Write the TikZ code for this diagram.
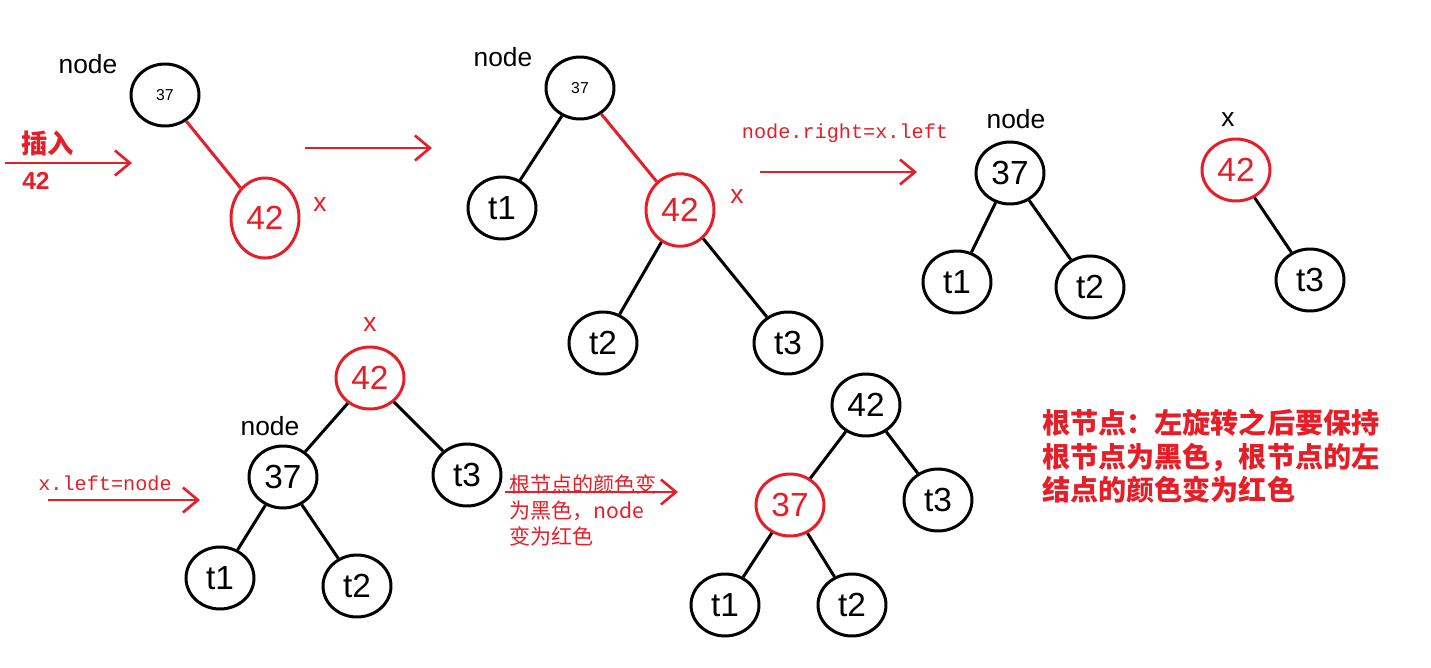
\documentclass[tikz,border=0pt]{standalone}
\usepackage{fontspec}
\setmainfont{Liberation Sans}
\setmonofont{Liberation Mono}
\newfontfamily\cjk{Noto Sans CJK SC}
\usetikzlibrary{shapes.geometric, arrows.meta}
\definecolor{rbred}{RGB}{230,30,40}
\tikzset{
  bn/.style={draw, ellipse, line width=1.7pt, minimum width=1.36cm, minimum height=1.24cm, inner sep=0, font=\fontsize{19}{19}\selectfont},
  rn/.style={bn, draw=rbred, text=rbred},
  lbl/.style={font=\fontsize{15}{15}\selectfont},
  note/.style={text=rbred, font=\cjk\fontsize{12}{15}\selectfont, align=left},
  code/.style={text=rbred, font=\ttfamily\fontsize{11.5}{11.5}\selectfont},
  ar/.style={-{Straight Barb[length=3mm,width=5mm]}, draw=rbred, line width=1.5pt},
  ed/.style={line width=1.7pt}
}
\begin{document}
\begin{tikzpicture}[x=0.02cm, y=-0.02cm]
		\useasboundingbox (0,0) rectangle (1431,667);
		% first: insert 42
		\node[bn, font=\small] (a1) at (165,95) {37};
		\node[rn, minimum height=1.6cm] (a2) at (265,218) {42};
		\node[lbl] at (88,64) {node};
		\node[lbl, text=rbred] at (320,205) {x};
		\draw[ed, draw=rbred] (a1) -- (a2);
		\coordinate (p1) at (5,163);
		\coordinate (p2) at (132,163);
		\draw[ar] (p1) -- (p2);
		\node[note, font=\cjk\bfseries\fontsize{15}{15}\selectfont] at (48,143) {插入};
		\node[note, font=\bfseries\fontsize{14}{14}\selectfont] at (36,181) {42};
		\coordinate (p3) at (305,148);
		\coordinate (p4) at (432,148);
		\draw[ar] (p3) -- (p4);
		
		% second: subtrees
		\node[bn, font=\small] (b1) at (580,88) {37};
		\node[bn] (b2) at (502,208) {t1};
		\node[rn, minimum height=1.45cm] (b3) at (680,210) {42};
		\node[bn] (b4) at (603,343) {t2};
		\node[bn] (b5) at (788,343) {t3};
		\node[lbl] at (503,57) {node};
		\node[lbl, text=rbred] at (737,197) {x};
		\draw[ed] (b1) -- (b2);
		\draw[ed, draw=rbred] (b1) -- (b3);
		\draw[ed] (b3) -- (b4);
		\draw[ed] (b3) -- (b5);
		\node[code] at (845,133) {node.right=x.left};
		\coordinate (p5) at (760,172);
		\coordinate (p6) at (917,172);
		\draw[ar] (p5) -- (p6);
		
		% third: split
		\node[bn] (c1) at (1010,173) {37};
		\node[bn] (c2) at (957,282) {t1};
		\node[bn] (c3) at (1090,287) {t2};
		\node[rn] (c4) at (1236,170) {42};
		\node[bn] (c5) at (1310,280) {t3};
		\node[lbl] at (1016,119) {node};
		\node[lbl] at (1228,120) {x};
		\draw[ed] (c1) -- (c2);
		\draw[ed] (c1) -- (c3);
		\draw[ed] (c4) -- (c5);
		
		% fourth: rotated
		\node[rn] (d1) at (370,378) {42};
		\node[bn] (d2) at (283,477) {37};
		\node[bn] (d3) at (467,475) {t3};
		\node[bn] (d4) at (220,578) {t1};
		\node[bn] (d5) at (357,586) {t2};
		\node[lbl, text=rbred] at (370,325) {x};
		\node[lbl] at (270,426) {node};
		\draw[ed] (d1) -- (d2);
		\draw[ed] (d1) -- (d3);
		\draw[ed] (d2) -- (d4);
		\draw[ed] (d2) -- (d5);
		\node[code] at (105,483) {x.left=node};
		\coordinate (p7) at (48,500);
		\coordinate (p8) at (200,500);
		\draw[ar] (p7) -- (p8);
		\coordinate (p9) at (505,492);
		\coordinate (p10) at (678,492);
		\draw[ar] (p9) -- (p10);
		\node[note, anchor=north west] at (503,468) {根节点的颜色变\\为黑色，node\\变为红色};
		
		% fifth: recoloured
		\node[bn] (e1) at (866,405) {42};
		\node[rn] (e2) at (790,505) {37};
		\node[bn] (e3) at (938,500) {t3};
		\node[bn] (e4) at (725,605) {t1};
		\node[bn] (e5) at (852,605) {t2};
		\draw[ed] (e1) -- (e2);
		\draw[ed] (e1) -- (e3);
		\draw[ed] (e2) -- (e4);
		\draw[ed] (e2) -- (e5);
		\node[note, anchor=north west, font=\cjk\bfseries\fontsize{16}{19}\selectfont] at (1036,403) {根节点：左旋转之后要保持\\根节点为黑色，根节点的左\\结点的颜色变为红色};
\end{tikzpicture}
\end{document}
